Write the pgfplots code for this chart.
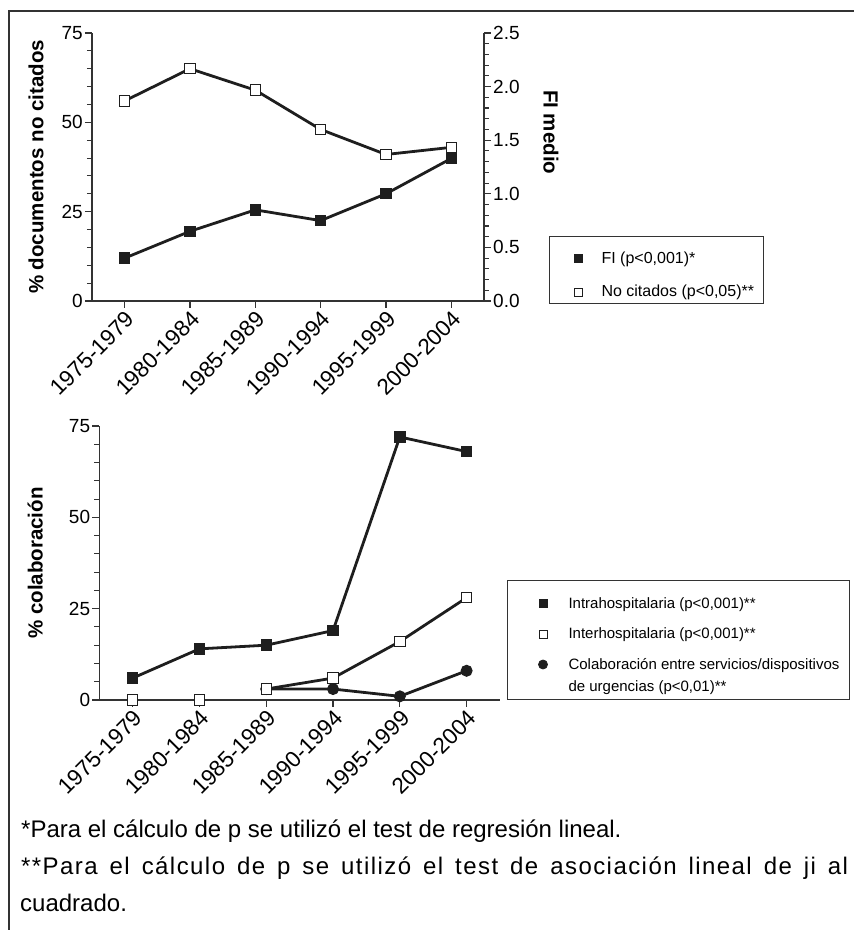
\documentclass[border=0pt]{standalone}
\usepackage{fontspec}
\setmainfont{Liberation Sans}
\newfontfamily\spacedfont[LetterSpace=6]{Liberation Sans}
\usepackage{pgfplots}
\pgfplotsset{compat=1.18}
\definecolor{ink}{HTML}{1E1E1E}
\definecolor{axc}{HTML}{333333}
\pgfplotsset{
  mystyle/.style={
    scale only axis,
    axis line style={axc, line width=1.1pt},
    every tick/.style={axc, line width=1.1pt},
    tick align=outside,
    major tick length=7pt,
    minor tick length=5pt,
    xmin=-0.5, xmax=5.5,
    xtick={0,...,5},
    xticklabels={1975-1979,1980-1984,1985-1989,1990-1994,1995-1999,2000-2004},
    /pgf/number format/assume math mode=true,
    yticklabel style={font=\fontsize{19}{21}\selectfont, inner sep=2pt},
    xticklabel style={font=\fontsize{22.5}{24}\selectfont, rotate=45, anchor=north east, inner sep=1pt},
    clip=false,
  },
}
\begin{document}
\begin{tikzpicture}
\path[use as bounding box] (0pt,0pt) rectangle (854pt,930pt);
\draw[axc, line width=1.3pt] (9pt,0pt) -- (9pt,919pt) -- (854pt,919pt);

% ---------- top chart, left axis ----------
\begin{axis}[mystyle, at={(92pt,629pt)}, anchor=south west, width=392pt, height=268pt,
  axis x line*=bottom, axis y line*=left,
  ymin=0, ymax=75, ytick={0,25,50,75}, minor y tick num=4,
  ylabel={\% documentos no citados},
  every axis y label/.style={at={(axis description cs:-0.143,0.5)}, rotate=90, anchor=center, font=\fontsize{20.5}{22}\selectfont\bfseries},
]
\addplot[ink, line width=2.8pt, mark=square*, mark size=5.2pt,
  mark options={fill=white, draw=ink, line width=1pt}]
  coordinates {(0,56) (1,65) (2,59) (3,48) (4,41) (5,43)};
\end{axis}

% ---------- top chart, right axis ----------
\begin{axis}[mystyle, at={(92pt,629pt)}, anchor=south west, width=392pt, height=268pt,
  axis x line=none, axis y line*=right,
  ymin=0, ymax=2.5, ytick={0,0.5,1,1.5,2,2.5}, minor y tick num=4,
  yticklabel style={/pgf/number format/.cd, fixed, fixed zerofill, precision=1},
  ylabel={FI medio},
  every axis y label/.style={at={(axis description cs:1.171,0.63)}, rotate=-90, anchor=center, font=\fontsize{20.5}{22}\selectfont\bfseries},
  legend style={at={(axis description cs:1.166,-0.011)}, anchor=south west,
    draw=axc, line width=1pt, inner xsep=7pt, inner ysep=3pt,
    row sep=0pt, column sep=16pt, font=\fontsize{16}{19}\selectfont,
    cells={anchor=base west, inner sep=0pt}},
  legend image code/.code={\path (-21pt,0pt) (5pt,0pt); \draw[#1] plot coordinates {(0pt,5pt)};},
]
\addplot[ink, line width=2.8pt, mark=square*, mark size=5.2pt,
  mark options={fill=ink, draw=ink, line width=1pt}, forget plot]
  coordinates {(0,0.40) (1,0.65) (2,0.85) (3,0.75) (4,1.00) (5,1.33)};
\addlegendimage{mark=square*, mark size=4pt, mark options={fill=ink, draw=ink, line width=0.8pt}}
\addlegendentry{\rule[-4pt]{0pt}{26pt}FI (p<0,001)*}
\addlegendimage{mark=square*, mark size=4pt, mark options={fill=white, draw=ink, line width=0.8pt}}
\addlegendentry{\rule[-6pt]{0pt}{34pt}No citados (p<0,05)**}
\end{axis}

% ---------- bottom chart ----------
\begin{axis}[mystyle, at={(99.3pt,230pt)}, anchor=south west, width=400.7pt, height=274pt,
  axis x line*=bottom, axis y line*=left,
  ymin=0, ymax=75, ytick={0,25,50,75}, minor y tick num=4,
  ylabel={\% colaboración},
  every axis y label/.style={at={(axis description cs:-0.16,0.5)}, rotate=90, anchor=center, font=\fontsize{20.5}{22}\selectfont\bfseries},
  legend style={at={(axis description cs:1.0175,0)}, anchor=south west,
    draw=axc, line width=1pt, inner xsep=8pt, inner ysep=4pt,
    row sep=0pt, column sep=18pt, font=\fontsize{15}{18}\selectfont,
    cells={anchor=base west, inner sep=0pt}},
  legend image code/.code={\path (-27pt,0pt) (5pt,0pt); \draw[#1] plot coordinates {(0pt,5pt)};},
]
\addplot[ink, line width=2.8pt, mark=*, mark size=5.5pt,
  mark options={fill=ink, draw=ink, line width=1pt}, forget plot]
  coordinates {(2,3) (3,3) (4,1) (5,8)};
\addplot[ink, line width=2.8pt, only marks, mark=square*, mark size=5.2pt,
  mark options={fill=white, draw=ink, line width=1pt}, forget plot]
  coordinates {(0,0) (1,0)};
\addplot[ink, line width=2.8pt, mark=square*, mark size=5.2pt,
  mark options={fill=white, draw=ink, line width=1pt}, forget plot]
  coordinates {(2,3) (3,6) (4,16) (5,28)};
\addplot[ink, line width=2.8pt, mark=square*, mark size=5.2pt,
  mark options={fill=ink, draw=ink, line width=1pt}, forget plot]
  coordinates {(0,6) (1,14) (2,15) (3,19) (4,72) (5,68)};
\addlegendimage{mark=square*, mark size=4pt, mark options={fill=ink, draw=ink, line width=0.8pt}}
\addlegendentry{\rule[-4pt]{0pt}{26pt}Intrahospitalaria (p<0,001)**}
\addlegendimage{mark=square*, mark size=4pt, mark options={fill=white, draw=ink, line width=0.8pt}}
\addlegendentry{\rule[-4pt]{0pt}{29pt}Interhospitalaria (p<0,001)**}
\addlegendimage{mark=*, mark size=4.5pt, mark options={fill=ink, draw=ink, line width=0.8pt}}
\addlegendentry{\rule[-4pt]{0pt}{29pt}Colaboración entre servicios/dispositivos}
\addlegendimage{empty legend}
\addlegendentry{\rule[-7pt]{0pt}{24pt}de urgencias (p<0,01)**}
\end{axis}

% ---------- footnotes ----------
\node[anchor=base west, inner sep=0pt, font=\fontsize{24}{28}\selectfont] at (21pt,92pt)
  {*Para el cálculo de p se utilizó el test de regresión lineal.};
\node[anchor=base west, inner sep=0pt, font=\fontsize{24}{28}\selectfont] at (21pt,55pt)
  {\makebox[827pt][s]{\spacedfont **Para el cálculo de p se utilizó el test de asociación lineal de ji al}};
\node[anchor=base west, inner sep=0pt, font=\fontsize{24}{28}\selectfont] at (20pt,18pt)
  {cuadrado.};
\end{tikzpicture}
\end{document}
